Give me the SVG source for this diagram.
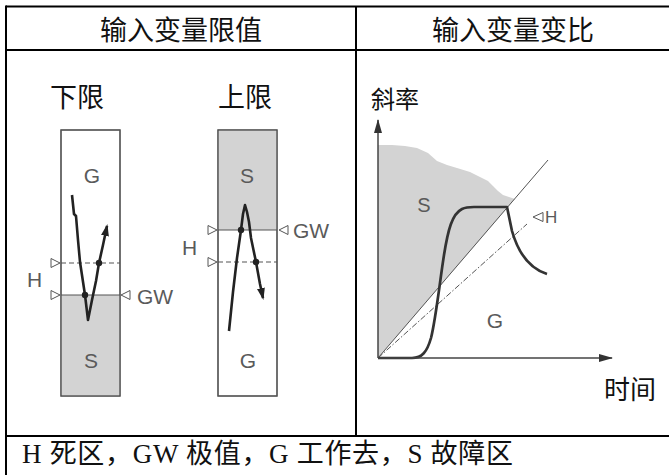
<svg xmlns="http://www.w3.org/2000/svg" width="669" height="475" viewBox="0 0 669 475">
<style>
.frame{stroke:#000;stroke-width:2;fill:none}
.cjk{font-family:"Noto Sans CJK SC","Noto Sans",sans-serif;fill:#111}
.lbl{font-family:"Liberation Sans",Arial,sans-serif;fill:#5a5a5a}
.box{fill:#fff;stroke:#555;stroke-width:1.2}
.grey{fill:#d3d3d3}
.gw{stroke:#555;stroke-width:1.2;fill:none}
.hl{stroke:#555;stroke-width:1.2;stroke-dasharray:5 3;fill:none}
.tri{fill:#fff;stroke:#555;stroke-width:1}
.sig{stroke:#222;stroke-width:2.6;fill:none;stroke-linejoin:round}
.dot{fill:#222}
.axis{stroke:#444;stroke-width:1.5;fill:none}
</style>
<defs>
<marker id="arr" viewBox="0 0 12 8" refX="10" refY="4" markerWidth="12" markerHeight="8" orient="auto" markerUnits="userSpaceOnUse">
<path d="M0,0 L12,4 L0,8 Z" fill="#222"/>
</marker>
<marker id="axarr" viewBox="0 0 14 8" refX="13" refY="4" markerWidth="14" markerHeight="8" orient="auto" markerUnits="userSpaceOnUse">
<path d="M0,0 L14,4 L0,8 Z" fill="#333"/>
</marker>
</defs>

<g id="table">
<line class="frame" x1="6" y1="6.5" x2="669" y2="6.5"/>
<line class="frame" x1="6" y1="5.5" x2="6" y2="475"/>
<line class="frame" x1="6" y1="50" x2="669" y2="50"/>
<line class="frame" x1="356" y1="6" x2="356" y2="436"/>
<line class="frame" x1="6" y1="436" x2="669" y2="436"/>
<text class="cjk" x="181" y="40" font-size="27" text-anchor="middle">输入变量限值</text>
<text class="cjk" x="513" y="40" font-size="27" text-anchor="middle">输入变量变比</text>
<text x="22" y="463" font-size="27" font-family="Liberation Serif,'Noto Sans CJK SC',serif" fill="#111" textLength="491" lengthAdjust="spacing">H 死区，GW 极值，G 工作去，S 故障区</text>
</g>

<g id="lower-limit">
<text class="cjk" x="77" y="107" font-size="27" text-anchor="middle">下限</text>
<rect class="box" x="61" y="130" width="59" height="266"/>
<rect class="grey" x="61.6" y="295" width="57.8" height="100.4"/>
<rect x="61" y="130" width="59" height="266" fill="none" stroke="#555" stroke-width="1.2"/>
<line class="gw" x1="61" y1="295" x2="120" y2="295"/>
<line class="hl" x1="61" y1="263" x2="120" y2="263"/>
<path class="tri" d="M51,258.5 L60,263 L51,267.5 Z"/>
<path class="tri" d="M51,290.5 L60,295 L51,299.5 Z"/>
<path class="tri" d="M130,290.5 L121,295 L130,299.5 Z"/>
<text class="lbl" x="92" y="183" font-size="21" text-anchor="middle">G</text>
<text class="lbl" x="91" y="368" font-size="21" text-anchor="middle">S</text>
<text class="lbl" x="27" y="287" font-size="21">H</text>
<text class="lbl" x="137" y="304" font-size="21">GW</text>
<polyline class="sig" points="72,195 74,214 76,216 78,240 80,262 85,295 88,320 92,300 96,281 99,263 103,245 107,226" marker-end="url(#arr)"/>
<circle class="dot" cx="85" cy="295" r="3.2"/>
<circle class="dot" cx="99" cy="263" r="3.2"/>
</g>

<g id="upper-limit">
<text class="cjk" x="245" y="107" font-size="27" text-anchor="middle">上限</text>
<rect class="box" x="218" y="130" width="59" height="266"/>
<rect class="grey" x="218.6" y="130.6" width="57.8" height="99.4"/>
<rect x="218" y="130" width="59" height="266" fill="none" stroke="#555" stroke-width="1.2"/>
<line class="gw" x1="218" y1="230" x2="277" y2="230"/>
<line class="hl" x1="218" y1="262" x2="277" y2="262"/>
<path class="tri" d="M208,225.5 L217,230 L208,234.5 Z"/>
<path class="tri" d="M208,257.5 L217,262 L208,266.5 Z"/>
<path class="tri" d="M288,225.5 L279,230 L288,234.5 Z"/>
<text class="lbl" x="247" y="183" font-size="21" text-anchor="middle">S</text>
<text class="lbl" x="248" y="368" font-size="21" text-anchor="middle">G</text>
<text class="lbl" x="182" y="255" font-size="21">H</text>
<text class="lbl" x="293" y="238" font-size="21">GW</text>
<polyline class="sig" points="229,331 233,292 237,258 241,230 243,214 245,205 247,212 249,222 251,238 256,262 260,284 263,298" marker-end="url(#arr)"/>
<circle class="dot" cx="241" cy="230" r="3.2"/>
<circle class="dot" cx="256" cy="262" r="3.2"/>
</g>

<g id="gradient-chart">
<text class="cjk" x="371" y="108" font-size="24">斜率</text>
<text class="cjk" x="604" y="399" font-size="26">时间</text>
<path class="grey" d="M378,358 L378,145 L392,145 L405,146 L417,148 L428,153 L437,161 L447,165 L457,168 L470,172 L480,177 L488,181 L493,186 L498,191 L503,195 L509,197 L515,199 Z"/>
<line x1="378" y1="358" x2="548" y2="160" stroke="#555" stroke-width="1"/>
<line x1="378" y1="358" x2="527" y2="224" stroke="#555" stroke-width="1" stroke-dasharray="6 2 1.5 2"/>
<path class="tri" d="M543,212.5 L533,217 L543,221.5 Z"/>
<text class="lbl" x="545" y="223" font-size="17">H</text>
<text class="lbl" x="424" y="212" font-size="20" text-anchor="middle">S</text>
<text class="lbl" x="495" y="328" font-size="21" text-anchor="middle">G</text>
<path d="M378,358 L412,358 C422,358 427,352 431,338 C436,318 440,280 444,255 C448,230 452,214 462,209 C466,207 470,207 474,207 L507,207 L512,231 C518,252 528,268 547,274" stroke="#333" stroke-width="2.7" fill="none" stroke-linejoin="round"/>
<line class="axis" x1="378" y1="358" x2="378" y2="120" marker-end="url(#axarr)"/>
<line class="axis" x1="378" y1="358" x2="612" y2="358" marker-end="url(#axarr)"/>
</g>
</svg>
